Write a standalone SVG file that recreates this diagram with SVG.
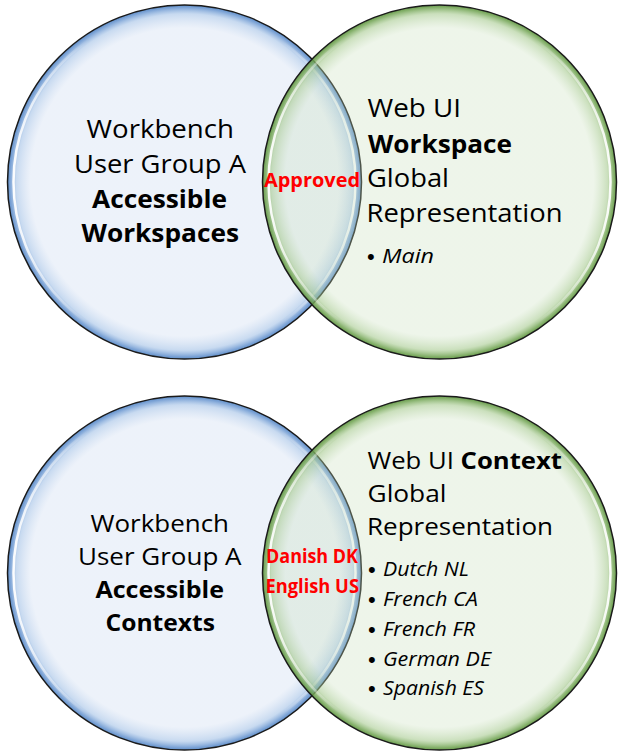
<svg xmlns="http://www.w3.org/2000/svg" width="619" height="755" viewBox="0 0 619 755">
  <defs>
    <radialGradient id="gBlue">
      <stop offset="0" stop-color="rgb(195,212,238)" stop-opacity="0.3"/>
      <stop offset="0.87" stop-color="rgb(195,212,238)" stop-opacity="0.3"/>
      <stop offset="0.95" stop-color="rgb(155,188,228)" stop-opacity="0.55"/>
      <stop offset="0.985" stop-color="rgb(105,150,208)" stop-opacity="0.85"/>
      <stop offset="1" stop-color="rgb(85,135,198)" stop-opacity="0.95"/>
    </radialGradient>
    <radialGradient id="gGreen">
      <stop offset="0" stop-color="rgb(198,222,185)" stop-opacity="0.3"/>
      <stop offset="0.87" stop-color="rgb(198,222,185)" stop-opacity="0.3"/>
      <stop offset="0.95" stop-color="rgb(160,198,135)" stop-opacity="0.55"/>
      <stop offset="0.985" stop-color="rgb(115,165,85)" stop-opacity="0.85"/>
      <stop offset="1" stop-color="rgb(95,150,65)" stop-opacity="0.95"/>
    </radialGradient>
    <linearGradient id="gShine" x1="0" y1="0" x2="1" y2="0">
      <stop offset="0" stop-color="#fff" stop-opacity="0.95"/>
      <stop offset="0.22" stop-color="#fff" stop-opacity="0"/>
      <stop offset="0.78" stop-color="#fff" stop-opacity="0"/>
      <stop offset="1" stop-color="#fff" stop-opacity="0.95"/>
    </linearGradient>
  </defs>
  <style>
    .blue { fill: url(#gBlue); stroke: #1a1a1a; stroke-width: 1.5; }
    .green { fill: url(#gGreen); stroke: #1a1a1a; stroke-width: 1.5; }
    .shine { fill: none; stroke: url(#gShine); stroke-width: 2.5; }
    text { font-family: "Open Sans", "DejaVu Sans", sans-serif; fill: #000; }
    .t1 { font-size: 25.5px; }
    .t2 { font-size: 24px; }
    .b { font-weight: bold; }
    .it { font-size: 20px; font-style: italic; }
    .bul { font-family: "Liberation Sans", Arial, sans-serif; font-size: 22px; }
    .red { fill: #ff0000; font-weight: bold; font-size: 19px; }
  </style>

  <g id="top-left-circle">
    <circle class="blue" cx="184.5" cy="182" r="177"/>
    <circle class="shine" cx="184.5" cy="182" r="171"/>
    <text class="t1" x="86.5" y="137.7" textLength="147.5" lengthAdjust="spacingAndGlyphs">Workbench</text>
    <text class="t1" x="74" y="172.7" textLength="172" lengthAdjust="spacingAndGlyphs">User Group A</text>
    <text class="t1 b" x="92" y="208.3" textLength="135" lengthAdjust="spacingAndGlyphs">Accessible</text>
    <text class="t1 b" x="81.5" y="241.7" textLength="157.5" lengthAdjust="spacingAndGlyphs">Workspaces</text>
  </g>

  <g id="top-right-circle">
    <circle class="green" cx="439.5" cy="182" r="177"/>
    <circle class="shine" cx="439.5" cy="182" r="171"/>
    <text class="t1" x="367.5" y="117.3" textLength="93.5" lengthAdjust="spacingAndGlyphs">Web UI</text>
    <text class="t1 b" x="368" y="152.7" textLength="144" lengthAdjust="spacingAndGlyphs">Workspace</text>
    <text class="t1" x="367" y="187.3" textLength="82" lengthAdjust="spacingAndGlyphs">Global</text>
    <text class="t1" x="366.5" y="221.7" textLength="196" lengthAdjust="spacingAndGlyphs">Representation</text>
    <text class="bul" x="367" y="264">•</text>
    <text class="it" x="382" y="263.3" textLength="52" lengthAdjust="spacingAndGlyphs">Main</text>
  </g>

  <g id="top-overlap">
    <text class="red" x="264" y="186.7" textLength="96" lengthAdjust="spacingAndGlyphs">Approved</text>
  </g>

  <g id="bottom-left-circle">
    <circle class="blue" cx="184.5" cy="573" r="177"/>
    <circle class="shine" cx="184.5" cy="573" r="171"/>
    <text class="t2" x="90.5" y="532.3" textLength="138.5" lengthAdjust="spacingAndGlyphs">Workbench</text>
    <text class="t2" x="78" y="565" textLength="163.5" lengthAdjust="spacingAndGlyphs">User Group A</text>
    <text class="t2 b" x="95.5" y="598.3" textLength="128.5" lengthAdjust="spacingAndGlyphs">Accessible</text>
    <text class="t2 b" x="105.5" y="631" textLength="109.5" lengthAdjust="spacingAndGlyphs">Contexts</text>
  </g>

  <g id="bottom-right-circle">
    <circle class="green" cx="439.5" cy="573" r="177"/>
    <circle class="shine" cx="439.5" cy="573" r="171"/>
    <text class="t2" x="367.5" y="469.3" textLength="194.5" lengthAdjust="spacingAndGlyphs">Web UI <tspan class="b">Context</tspan></text>
    <text class="t2" x="367.5" y="502.3" textLength="79" lengthAdjust="spacingAndGlyphs">Global</text>
    <text class="t2" x="367" y="535" textLength="186" lengthAdjust="spacingAndGlyphs">Representation</text>
    <text class="bul" x="368" y="576.5">•</text>
    <text class="it" x="383" y="575.7" textLength="86" lengthAdjust="spacingAndGlyphs">Dutch NL</text>
    <text class="bul" x="368" y="606.5">•</text>
    <text class="it" x="383" y="605.7" textLength="95" lengthAdjust="spacingAndGlyphs">French CA</text>
    <text class="bul" x="368" y="636.5">•</text>
    <text class="it" x="383" y="635.7" textLength="92" lengthAdjust="spacingAndGlyphs">French FR</text>
    <text class="bul" x="368" y="666.5">•</text>
    <text class="it" x="383" y="665.7" textLength="108" lengthAdjust="spacingAndGlyphs">German DE</text>
    <text class="bul" x="368" y="695.8">•</text>
    <text class="it" x="383" y="695" textLength="101" lengthAdjust="spacingAndGlyphs">Spanish ES</text>
  </g>

  <g id="bottom-overlap">
    <text class="red" x="266" y="562.7" textLength="92" lengthAdjust="spacingAndGlyphs">Danish DK</text>
    <text class="red" x="265.5" y="593.3" textLength="93.5" lengthAdjust="spacingAndGlyphs">English US</text>
  </g>

  <g id="connectors"/>
</svg>
